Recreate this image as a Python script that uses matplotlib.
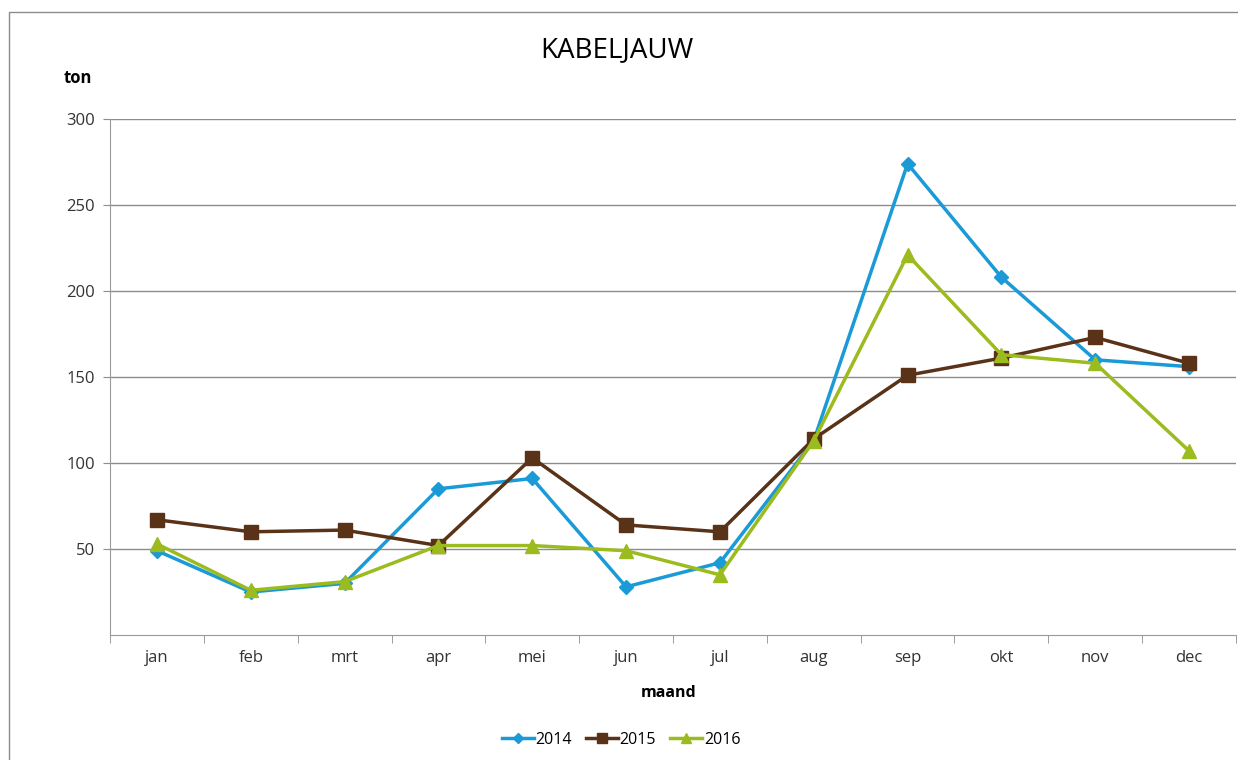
import matplotlib
matplotlib.use("Agg")
import matplotlib.pyplot as plt
from matplotlib.patches import Rectangle

plt.rcParams['font.family'] = ['Open Sans', 'DejaVu Sans']

maanden = ['jan', 'feb', 'mrt', 'apr', 'mei', 'jun', 'jul', 'aug', 'sep', 'okt', 'nov', 'dec']
v2014 = [49, 25, 30, 85, 91, 28, 42, 113, 274, 208, 160, 156]
v2015 = [67, 60, 61, 52, 103, 64, 60, 114, 151, 161, 173, 158]
v2016 = [53, 26, 31, 52, 52, 49, 35, 113, 221, 163, 158, 107]

fig = plt.figure(figsize=(12.38, 7.6), dpi=100)
fig.patches.append(Rectangle((9 / 1238, -0.1), 1.2, (760 - 12) / 760 + 0.1,
                             transform=fig.transFigure, fill=False,
                             edgecolor='#8c8c8c', linewidth=1.0))
ax = fig.add_axes([110 / 1238, 125 / 760, 1126 / 1238, 516 / 760])

x = range(len(maanden))
ax.plot(x, v2014, color='#1a9ad6', marker='D', markersize=7, linewidth=2.5, label='2014')
ax.plot(x, v2015, color='#5a3218', marker='s', markersize=10, linewidth=2.5, label='2015')
ax.plot(x, v2016, color='#9bbb1e', marker='^', markersize=10, linewidth=2.5, label='2016')

ax.set_xlim(-0.5, 11.5)
ax.set_ylim(0, 300)
ax.set_yticks([50, 100, 150, 200, 250, 300])
ax.yaxis.grid(True, color='#8c8c8c', linewidth=1.0)
ax.set_axisbelow(True)
ax.set_xticks(x)
ax.set_xticklabels(maanden)
ax.set_xticks([i - 0.5 for i in range(13)], minor=True)
ax.tick_params(axis='x', which='major', length=0, pad=11, labelsize=12, colors='#333333')
ax.tick_params(axis='x', which='minor', length=6, color='#8c8c8c')
ax.tick_params(axis='y', length=5, color='#8c8c8c', labelsize=12, labelcolor='#333333', pad=6)
for s in ['top', 'right']:
    ax.spines[s].set_visible(False)
for s in ['left', 'bottom']:
    ax.spines[s].set_color('#9a9a9a')

fig.text(617 / 1238, 1 - 50 / 760, 'KABELJAUW', ha='center', va='center', fontsize=20)
fig.text(78 / 1238, 1 - 78 / 760, 'ton', ha='center', va='center', fontsize=12, fontweight='bold')
fig.text(669 / 1238, 1 - 693 / 760, 'maand', ha='center', va='center', fontsize=11.5, fontweight='bold')

fig.legend(loc='center', bbox_to_anchor=(621 / 1238, 1 - 740 / 760), ncol=3, frameon=False,
           fontsize=11.5, handlelength=2.0, handletextpad=0.1, columnspacing=0.9, markerscale=0.75)

fig.savefig('out.png', dpi=100)
